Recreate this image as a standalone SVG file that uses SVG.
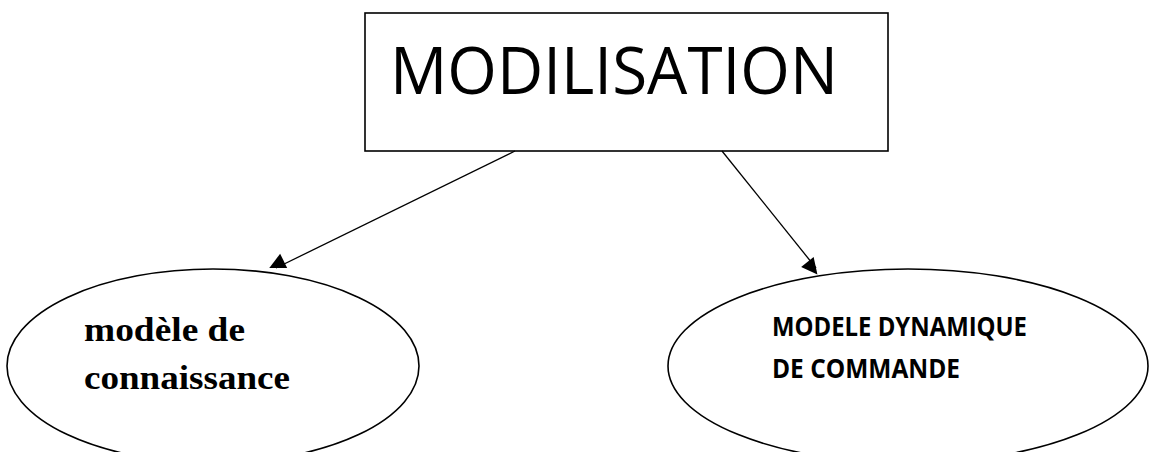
<svg xmlns="http://www.w3.org/2000/svg" width="1176" height="452" viewBox="0 0 1176 452">
<style>
.shape{fill:#fff;stroke:#000;stroke-width:1.6}
.conn{stroke:#000;stroke-width:1.3;fill:none}
.title{font-family:"Open Sans","Liberation Sans",sans-serif;font-size:66px;fill:#000}
.serif{font-family:"Liberation Serif",serif;font-weight:bold;font-size:34px;fill:#000}
.sans{font-family:"Open Sans","Liberation Sans",sans-serif;font-weight:bold;font-size:27px;fill:#000}
</style>
<defs>
<marker id="arr" viewBox="0 0 10 10" refX="10" refY="5" markerWidth="10" markerHeight="10" markerUnits="userSpaceOnUse" orient="auto" overflow="visible">
<path d="M0,0 L10,5 L0,10 z" transform="scale(1.6)" fill="#000"/>
</marker>
</defs>
<rect width="1176" height="452" fill="#fff"/>
<g id="node-modilisation">
<rect class="shape" x="365" y="13" width="523" height="138"/>
<text class="title" x="390" y="94" textLength="448" lengthAdjust="spacingAndGlyphs">MODILISATION</text>
</g>
<g id="node-connaissance">
<ellipse class="shape" cx="213" cy="366" rx="206" ry="97"/>
<text class="serif" x="84" y="341" textLength="161" lengthAdjust="spacingAndGlyphs">modèle de</text>
<text class="serif" x="84" y="389" textLength="206" lengthAdjust="spacingAndGlyphs">connaissance</text>
</g>
<g id="node-commande">
<ellipse class="shape" cx="908" cy="366" rx="240" ry="97"/>
<text class="sans" x="772" y="336" textLength="255" lengthAdjust="spacingAndGlyphs">MODELE DYNAMIQUE</text>
<text class="sans" x="772" y="378" textLength="188" lengthAdjust="spacingAndGlyphs">DE COMMANDE</text>
</g>
<g id="connectors">
<line class="conn" x1="515" y1="151" x2="276" y2="268" marker-end="url(#arr)"/>
<line class="conn" x1="722" y1="151" x2="816" y2="268" marker-end="url(#arr)"/>
</g>
</svg>
